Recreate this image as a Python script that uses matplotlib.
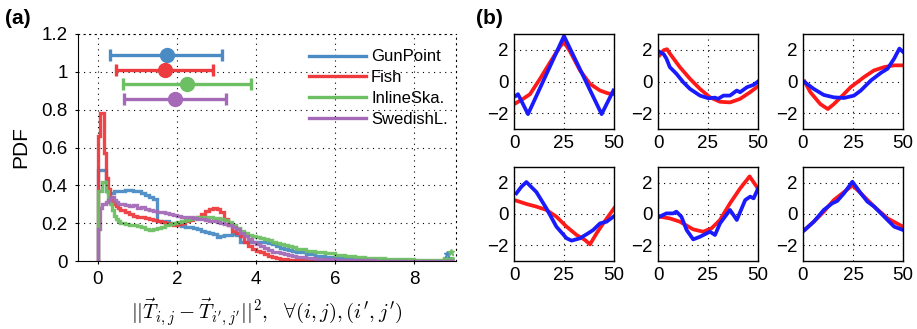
import numpy as np
import matplotlib
matplotlib.use("Agg")
import matplotlib.pyplot as plt
from matplotlib.lines import Line2D

plt.rcParams['font.family'] = ['Liberation Sans', 'DejaVu Sans']
plt.rcParams['mathtext.fontset'] = 'cm'

# ---- panel (a): histogram data ----
names = ['GunPoint', 'Fish', 'InlineSka.', 'SwedishL.']
colores = ['#4b8bc4', '#ee3b3f', '#6cbf62', '#a46ab8']

# bin edges: 0.05 up to 0.6, 0.1 up to 5, 0.25 up to 9
bordes = np.concatenate([np.arange(0, 0.6, 0.05), np.arange(0.6, 5.0, 0.1),
                         np.arange(5.0, 9.01, 0.25)])

gunpoint = [0.48, 0.48, 0.48, 0.48, 0.37, 0.36, 0.36, 0.36, 0.37, 0.37, 0.37, 0.37,
            0.37, 0.375, 0.375, 0.37,
            0.37, 0.36, 0.35, 0.34, 0.33,
            0.21, 0.21, 0.21, 0.2, 0.2,
            0.19, 0.185, 0.18, 0.18, 0.175,
            0.17, 0.16, 0.155, 0.15, 0.145,
            0.125, 0.13, 0.135, 0.14, 0.145,
            0.14, 0.1, 0.1, 0.1, 0.1,
            0.1, 0.1, 0.1, 0.095, 0.09,
            0.08, 0.07, 0.065, 0.06, 0.055,
            0.045, 0.035, 0.025, 0.02, 0.015, 0.012, 0.009, 0.007,
            0.005, 0.004, 0.003, 0.002, 0.002, 0.001, 0.001, 0.008]
fish = [0.66, 0.78, 0.78, 0.57, 0.44, 0.38, 0.34, 0.31, 0.3, 0.29, 0.28, 0.27,
        0.27, 0.26, 0.25, 0.24,
        0.235, 0.23, 0.225, 0.22, 0.215,
        0.21, 0.205, 0.2, 0.195, 0.19,
        0.195, 0.2, 0.21, 0.215, 0.225,
        0.235, 0.25, 0.265, 0.275, 0.28,
        0.275, 0.26, 0.22, 0.19, 0.16,
        0.15, 0.13, 0.1, 0.08, 0.065,
        0.055, 0.045, 0.035, 0.027, 0.02,
        0.015, 0.01, 0.008, 0.006, 0.004,
        0.003, 0.001, 0, 0, 0, 0, 0, 0,
        0, 0, 0, 0, 0, 0, 0, 0]
inline = [0.37, 0.37, 0.42, 0.42, 0.37, 0.33, 0.3, 0.27, 0.24, 0.22, 0.21, 0.2,
          0.2, 0.195, 0.19, 0.19,
          0.185, 0.18, 0.17, 0.165, 0.17,
          0.175, 0.18, 0.19, 0.195, 0.2,
          0.205, 0.21, 0.215, 0.22, 0.225,
          0.235, 0.235, 0.23, 0.23, 0.225,
          0.225, 0.22, 0.215, 0.205, 0.19,
          0.175, 0.16, 0.15, 0.14, 0.13,
          0.125, 0.12, 0.115, 0.11, 0.1,
          0.095, 0.09, 0.085, 0.08, 0.075,
          0.065, 0.055, 0.048, 0.04, 0.033, 0.028, 0.023, 0.018,
          0.015, 0.012, 0.01, 0.008, 0.007, 0.005, 0.004, 0.014]
swedish = [0.17, 0.28, 0.3, 0.3, 0.31, 0.32, 0.34, 0.34, 0.32, 0.31, 0.3, 0.3,
           0.3, 0.295, 0.29, 0.295,
           0.28, 0.285, 0.275, 0.27, 0.265,
           0.26, 0.26, 0.255, 0.25, 0.245,
           0.24, 0.235, 0.235, 0.23, 0.225,
           0.22, 0.22, 0.215, 0.21, 0.21,
           0.205, 0.2, 0.195, 0.19, 0.18,
           0.17, 0.15, 0.13, 0.115, 0.1,
           0.09, 0.08, 0.07, 0.06, 0.05,
           0.045, 0.04, 0.035, 0.03, 0.025,
           0.02, 0.015, 0.012, 0.009, 0.007, 0.005, 0.004, 0.003,
           0.002, 0.002, 0.001, 0.001, 0.001, 0.001, 0, 0]
series = [gunpoint, fish, inline, swedish]

# mean and range bars
err_centro = [1.74, 1.69, 2.26, 1.94]
err_min = [0.30, 0.45, 0.64, 0.66]
err_max = [3.15, 2.91, 3.88, 3.23]
err_y = [1.09, 1.01, 0.935, 0.855]

# outlier stars at the far end
estrella_x = [8.83, 8.93]
estrella_y = [0.035, 0.05]
estrella_col = [colores[0], colores[2]]

# ---- panel (b): example series (red / blue) ----
ejemplos = [
    (([1, 4.5, 8, 13, 18, 23, 25, 28, 33, 38, 43, 47, 50],
      [-1.36, -1.1, -0.8, 0.17, 1.2, 2.2, 2.5, 1.9, 0.7, -0.15, -0.57, -0.75, -0.8]),
     ([1, 2, 7, 25, 43.8, 49.7],
      [-0.9, -0.8, -2.06, 2.87, -2.06, -0.57])),
    (([0.8, 2.9, 4.5, 5.9, 10.9, 16, 21, 26, 31, 36, 41, 46, 50],
      [1.66, 1.98, 2.04, 1.77, 0.91, 0.17, -0.47, -1.0, -1.28, -1.32, -1.1, -0.68, -0.3]),
     ([0.8, 2.9, 4.2, 5.9, 9.2, 12.6, 16, 21, 25.2, 28.5, 30, 32.7, 36, 39.4, 41, 44.5, 47.8, 50],
      [1.87, 1.72, 1.45, 0.91, 0.49, -0.04, -0.47, -0.89, -1.06, -1.02, -1.1, -0.89, -0.89,
       -0.57, -0.68, -0.36, -0.21, 0.0])),
    (([0.8, 3.7, 8.7, 12.4, 15.4, 20.5, 23.8, 27.2, 30.5, 35.5, 40.6, 45.6, 50],
      [0.0, -0.68, -1.43, -1.74, -1.43, -0.79, -0.36, -0.04, 0.28, 0.7, 0.91, 1.02, 1.02]),
     ([0.8, 5.4, 10.4, 15.4, 20.5, 25.5, 28.9, 33.9, 39, 42.3, 45.6, 48.2, 50],
      [-0.04, -0.47, -0.85, -1.0, -1.04, -0.89, -0.57, 0.06, 0.55, 0.81, 1.45, 2.08, 1.87])),
    (([1.2, 6.2, 11.2, 16.2, 21.2, 26.3, 31.3, 35.5, 38, 41.3, 44.6, 50],
      [0.85, 0.64, 0.47, 0.26, -0.17, -0.81, -1.34, -1.66, -1.94, -1.23, -0.6, 0.36]),
     ([1.2, 3.7, 6.2, 11.2, 16.2, 21.2, 26.3, 28.8, 33, 37.1, 39.6, 43, 46.3, 49.7],
      [1.32, 1.74, 2.04, 1.4, 0.36, -0.81, -1.55, -1.7, -1.55, -1.23, -1.02, -0.6, -0.49, -0.17])),
    (([0.8, 5.9, 10.9, 17.6, 22.6, 26.8, 31, 36, 41, 45.8, 50],
      [-0.17, -0.28, -0.49, -0.98, -1.13, -0.91, -0.38, 0.68, 1.62, 2.4, 1.62]),
     ([0.8, 4.2, 7.6, 9.2, 11.7, 14.3, 17.6, 21, 26, 28.5, 31, 36, 39.4, 43.6, 46.1, 47.8, 50],
      [-0.17, 0.04, 0.04, 0.15, -0.17, -1.02, -1.62, -1.45, -1.13, -1.34, -0.6, 0.26, -0.38,
       0.89, 1.11, 1.0, 1.62])),
    (([0.8, 5.4, 10.4, 15.4, 20.5, 24.8, 28.9, 35.6, 42.3, 50],
      [-1.02, -0.49, 0.15, 0.89, 1.4, 1.83, 1.32, 0.47, -0.28, -0.81]),
     ([0.8, 5.4, 10.4, 14.6, 17.1, 20.5, 24.7, 28.9, 32.2, 35.6, 40.6, 45.6, 50],
      [-1.02, -0.49, 0.26, 0.68, 0.83, 1.32, 2.06, 1.32, 0.79, 0.47, -0.17, -0.81, -1.02])),
]

W, H = 917, 329
fig = plt.figure(figsize=(W / 100, H / 100), dpi=100)

def caja(x0, y0, x1, y1):
    # pixel box (top-left origin) -> figure fraction
    return [x0 / W, 1 - y1 / H, (x1 - x0) / W, (y1 - y0) / H]

grid_kw = dict(color='black', linestyle=(0, (1, 4)), linewidth=0.8)

# ---- panel (a) ----
ax = fig.add_axes(caja(78, 34, 456, 261))
for vals, col in zip(series, colores):
    ax.stairs(vals, bordes, color=col, linewidth=2.4, alpha=0.95, baseline=None)
    ax.plot([0, 0], [0, vals[0]], color=col, linewidth=2.4, alpha=0.95)

for c, lo, hi, yy, col in zip(err_centro, err_min, err_max, err_y, colores):
    ax.errorbar(c, yy, xerr=[[c - lo], [hi - c]], fmt='o', color=col, ms=10,
                elinewidth=2.4, capsize=4, capthick=2.4)

for ex, ey, col in zip(estrella_x, estrella_y, estrella_col):
    ax.plot(ex, ey, '*', color=col, ms=5)

ax.set_xlim(-0.5, 9.05)
ax.set_ylim(0, 1.2)
ax.set_xticks([0, 2, 4, 6, 8])
ax.set_yticks([0, 0.2, 0.4, 0.6, 0.8, 1.0, 1.2])
ax.set_yticklabels(['0', '0.2', '0.4', '0.6', '0.8', '1', '1.2'])
ax.tick_params(labelsize=13.5, direction='out', length=2.5, pad=5)
ax.grid(True, **grid_kw)
for s in ['top', 'right']:
    ax.spines[s].set_linestyle((0, (1, 4)))
    ax.spines[s].set_linewidth(0.8)
ax.set_ylabel('PDF', fontsize=15, labelpad=8)
ax.set_xlabel(r"$||\vec{T}_{i,j}-\vec{T}_{i',j'}||^2,\ \ \forall(i,j),(i',j')$",
              fontsize=15, labelpad=6)

handles = [Line2D([], [], color=c, linewidth=2.4) for c in colores]
ax.legend(handles, names, loc='upper left', bbox_to_anchor=(0.612, 0.932),
          frameon=False, fontsize=12, handlelength=3.4, handletextpad=0.3,
          labelspacing=0.35, borderaxespad=0, borderpad=0)

fig.text(5 / W, 1 - 18 / H, '(a)', fontsize=15, fontweight='bold', va='center')
fig.text(476 / W, 1 - 18 / H, '(b)', fontsize=15, fontweight='bold', va='center')

# ---- panel (b) ----
cols_x = [514, 658, 803]
filas_y = [(34, 129), (167, 261)]
for k, (roja, azul) in enumerate(ejemplos):
    fila, col = divmod(k, 3)
    x0 = cols_x[col]
    y0, y1 = filas_y[fila]
    bx = fig.add_axes(caja(x0, y0, x0 + 100, y1))
    bx.plot(roja[0], roja[1], color='#ff1a1a', linewidth=2.7)
    bx.plot(azul[0], azul[1], color='#1a1aff', linewidth=2.7)
    bx.set_xlim(0, 50)
    bx.set_ylim(-3, 3)
    bx.set_xticks([0, 25, 50])
    bx.set_yticks([-2, 0, 2])
    bx.set_yticklabels(['\u22122', '0', '2'])
    bx.tick_params(labelsize=13.5, direction='in', length=0, pad=4)
    bx.grid(True, **grid_kw)
    for s in bx.spines.values():
        s.set_linewidth(1.0)

fig.savefig('out.png', dpi=100)
